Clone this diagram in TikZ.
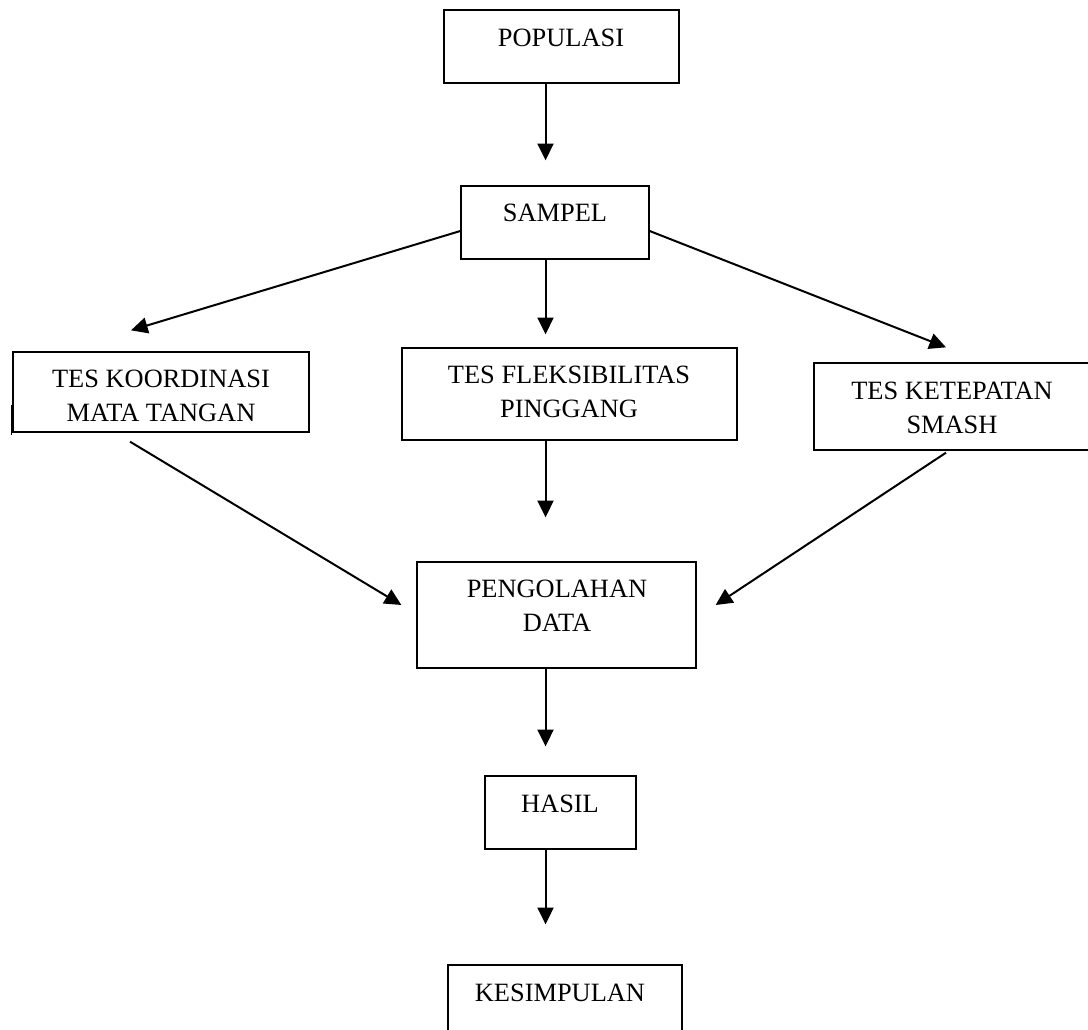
\documentclass[tikz,border=0pt]{standalone}
\usepackage{fontspec}
\setmainfont{Liberation Serif}
\usetikzlibrary{arrows.meta}
\begin{document}
\begin{tikzpicture}[x=0.75pt,y=-0.75pt,
 box/.style={draw, line width=1pt, inner sep=0pt},
 txt/.style={font=\fontsize{19.8pt}{25.5pt}\selectfont, align=center, inner sep=0pt},
 arr/.style={line width=1.5pt, -{Triangle[length=12.5pt,width=12pt]}}]
\useasboundingbox (0,0) rectangle (1088,1030);
\clip (0,0) rectangle (1088,1030);
% boxes
\node[box, minimum width=176.25pt, minimum height=54.75pt] (pop) at (561.5,46.5) {};
\node[box, minimum width=141pt, minimum height=54.75pt] (samp) at (555,222.5) {};
\node[box, minimum width=222pt, minimum height=60pt] (koord) at (161,392) {};
\node[box, minimum width=251.25pt, minimum height=69pt] (fleks) at (569.5,394) {};
\node[box, minimum width=208.5pt, minimum height=65.25pt] (ketep) at (953,406.5) {};
\node[box, minimum width=209.25pt, minimum height=79.5pt] (peng) at (556.5,615) {};
\node[box, minimum width=113.25pt, minimum height=54.75pt] (hasil) at (560.5,812.5) {};
\node[box, minimum width=175.5pt, minimum height=60pt] (kesim) at (565,1005) {};
% texts
\node[txt] (popt) at (561,38) {POPULASI};
\node[txt] (sampt) at (555,213) {SAMPEL};
\node[txt] (koordt) at (161,396) {TES KOORDINASI\\MATA TANGAN};
\node[txt] (flekst) at (569,391.5) {TES FLEKSIBILITAS\\PINGGANG};
\node[txt] (ketept) at (952,407.5) {TES KETEPATAN\\SMASH};
\node[txt] (pengt) at (557,606) {PENGOLAHAN\\DATA};
\node[txt] (hasilt) at (560,804) {HASIL};
\node[txt] (kesimt) at (560,992.5) {KESIMPULAN};
% stub line at left
\coordinate (stubA) at (11.5,405);
\coordinate (stubB) at (11.5,435);
\draw[line width=1.2pt] (stubA) -- (stubB);
% vertical arrows
\coordinate (ax) at (545.5,0);
\draw[arr, shorten >=18.75pt] (pop.south -| ax) -- (samp.north -| ax);
\draw[arr, shorten >=9.75pt] (samp.south -| ax) -- (fleks.north -| ax);
\draw[arr, shorten >=33pt] (fleks.south -| ax) -- (peng.north -| ax);
\draw[arr, shorten >=21.75pt] (peng.south -| ax) -- (hasil.north -| ax);
\draw[arr, shorten >=30pt] (hasil.south -| ax) -- (kesim.north -| ax);
% diagonal arrows
\draw[arr] ([shift={(0,8.5)}]samp.west) -- ([shift={(-30,-21)}]koord.north);
\draw[arr] ([shift={(0,8.5)}]samp.east) -- ([shift={(-7,-15)}]ketep.north);
\draw[arr] ([shift={(-31,9)}]koord.south) -- ([shift={(-15,-10)}]peng.west);
\draw[arr] ([shift={(-7,2)}]ketep.south) -- ([shift={(19,-10)}]peng.east);
\end{tikzpicture}
\end{document}
